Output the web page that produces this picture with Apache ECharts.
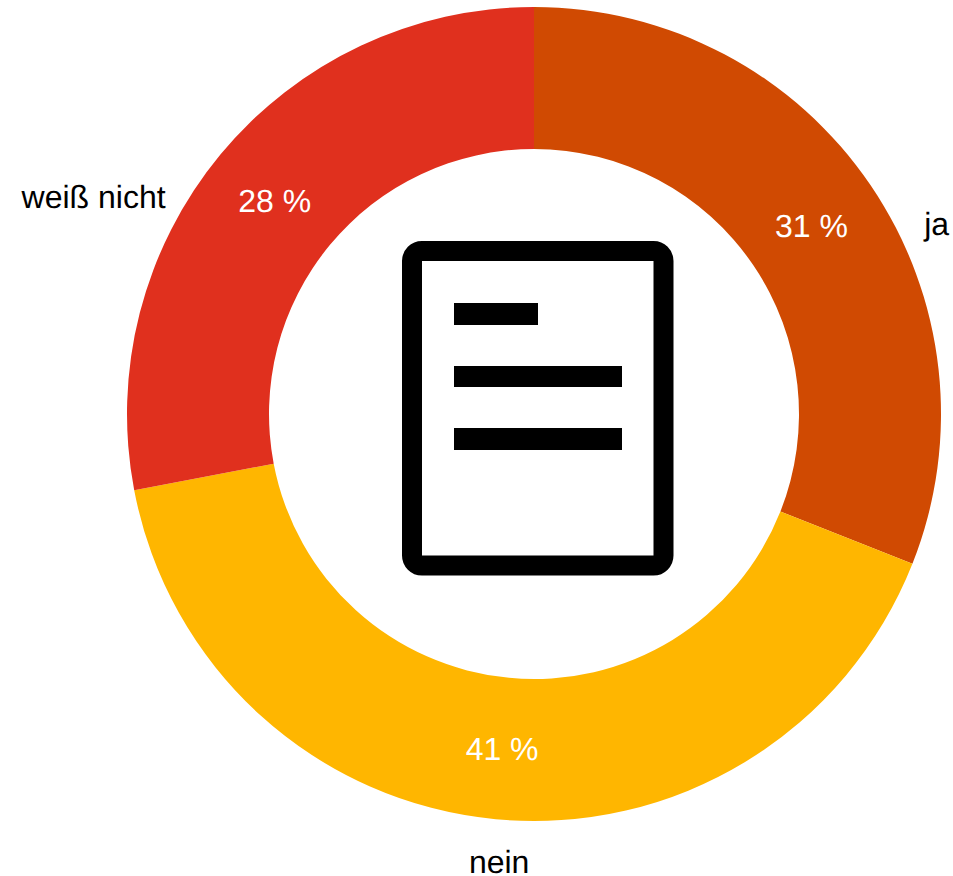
<!DOCTYPE html>
<html>
<head>
<meta charset="utf-8">
<style>html,body{margin:0;padding:0;background:#fff}#c{width:953px;height:876px}#c text{text-rendering:geometricPrecision}</style>
<script src="https://cdn.jsdelivr.net/npm/echarts@6/dist/echarts.min.js"></script>
</head>
<body>
<div id="c"></div>
<script>
const categories = ['ja', 'nein', 'weiß nicht'];
const values = [31, 41, 28];
const colors = ['#d04a02', '#ffb600', '#e0301e'];
const nudgeInner = [[-3, 3], [0, -2], [2, 3]];
const nudgeOuter = [[42, 47], [35, 29], [-44, 51]];
const FONT = '"Liberation Sans", Arial, sans-serif';
const pieData = categories.map((name, i) => ({ name, value: values[i], itemStyle: { color: colors[i] } }));
const chart = echarts.init(document.getElementById('c'), null, { renderer: 'svg' });
const center = [534, 414];
const radius = [265, 407];
chart.setOption({
  animation: false,
  series: [
    {
      type: 'pie', center, radius, startAngle: 90, clockwise: true, silent: true,
      avoidLabelOverlap: false,
      data: pieData,
      label: { position: 'inside', formatter: '{c} %', color: '#fff', fontSize: 32, fontFamily: FONT },
      labelLine: { show: false },
      labelLayout: p => ({ dx: nudgeInner[p.dataIndex][0], dy: nudgeInner[p.dataIndex][1] })
    },
    {
      type: 'pie', center, radius, startAngle: 90, clockwise: true, silent: true,
      avoidLabelOverlap: false,
      data: categories.map((name, i) => ({ name, value: values[i], itemStyle: { color: 'transparent' } })),
      label: { position: 'outside', formatter: '{b}', color: '#000', fontSize: 32, fontFamily: FONT, distanceToLabelLine: 0, overflow: 'none' },
      labelLine: { show: false, length: 14, length2: 0 },
      labelLayout: p => ({ dx: nudgeOuter[p.dataIndex][0], dy: nudgeOuter[p.dataIndex][1] })
    }
  ],
  graphic: [
    { type: 'rect', shape: { x: 412, y: 251, width: 251.5, height: 314.5, r: 10 }, style: { fill: '#fff', stroke: '#000', lineWidth: 20 } },
    { type: 'rect', shape: { x: 454, y: 303, width: 84, height: 22 }, style: { fill: '#000' } },
    { type: 'rect', shape: { x: 454, y: 366, width: 168, height: 21 }, style: { fill: '#000' } },
    { type: 'rect', shape: { x: 454, y: 428, width: 168, height: 22 }, style: { fill: '#000' } }
  ]
});
</script>
</body>
</html>
